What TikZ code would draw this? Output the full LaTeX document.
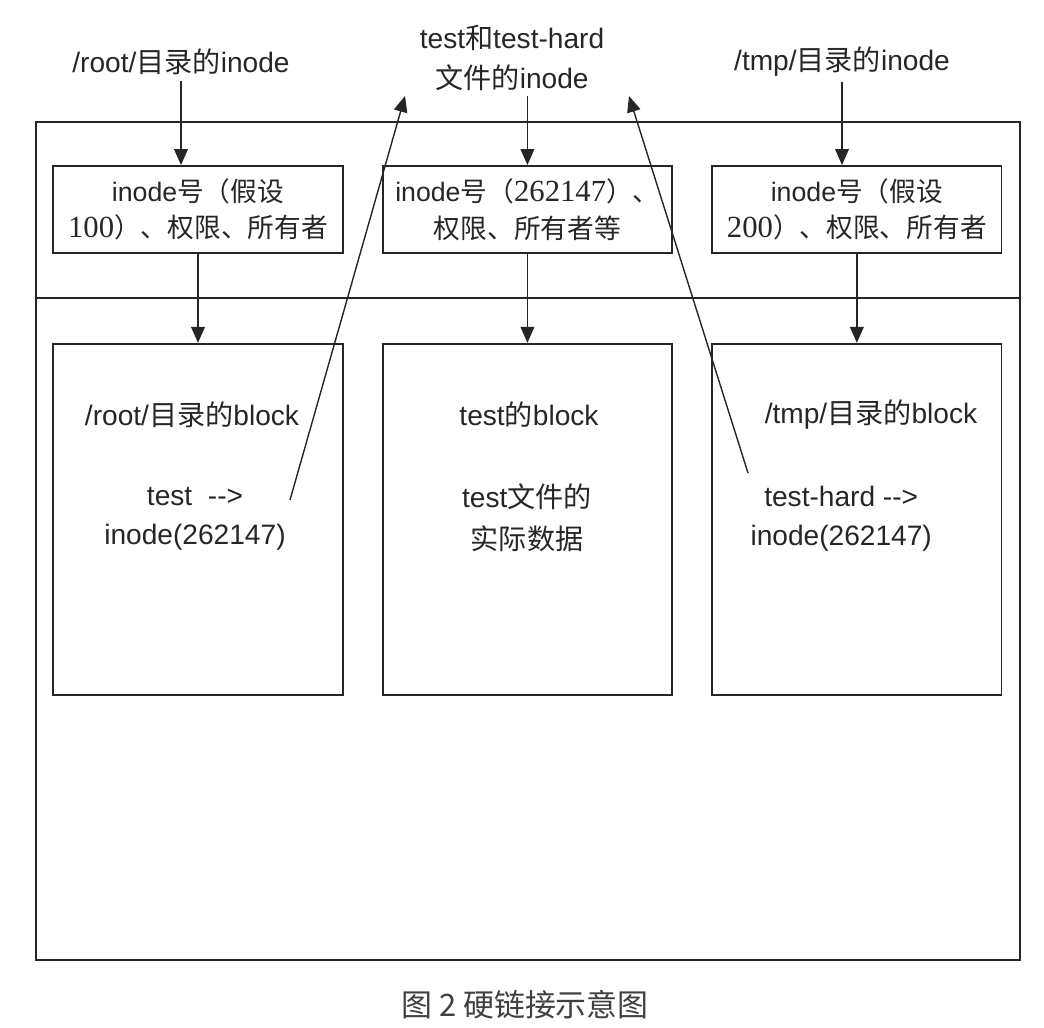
\documentclass[tikz,border=0pt]{standalone}
\usepackage{fontspec}
\setmainfont{Liberation Sans}
\newfontfamily\cjk{Noto Sans CJK SC}
\newfontfamily\numfont[Scale=1.15]{Liberation Serif}
\usetikzlibrary{arrows.meta,positioning}
\newcommand{\zh}[1]{{\cjk #1}}

\begin{document}
\begin{tikzpicture}[
  node distance=9.6mm and 9.6mm,
  line width=1.3pt, color=black!85,
  box/.style={rectangle, draw, minimum width=72.3mm, minimum height=21.75mm, inner sep=0pt, align=center, font=\fontsize{19}{26}\selectfont},
  blk/.style={rectangle, draw, minimum width=72.3mm, minimum height=87.75mm},
  lbl/.style={align=center, font=\fontsize{20}{28}\selectfont},
  arrow/.style={-{Triangle[length=4mm,width=3.4mm]}}]

\useasboundingbox (0,0) rectangle (26.1,-25.7);

% frame and divider
\draw (0.9,-3.05) rectangle (25.5,-24.0);
\draw (0.9,-7.45) -- (25.5,-7.45);

\node[lbl] (rootlbl) at (4.525,-1.55) {/root/\zh{目录的}inode};
\node[lbl] (filelbl) at (12.8,-1.45) {test\zh{和}test-hard\\\zh{文件的}inode};
\node[lbl] (tmplbl) at (21.05,-1.55) {/tmp/\zh{目录的}inode};

\node[box] (ino1) at (4.95,-5.2375) {inode\zh{号（假设}\\{\numfont 100}\zh{）、权限、所有者}};
\node[box, right=of ino1] (ino2) {inode\zh{号（}{\numfont 262147}\zh{）、}\\\zh{权限、所有者等}};
\node[box, right=of ino2] (ino3) {inode\zh{号（假设}\\{\numfont 200}\zh{）、权限、所有者}};

\node[blk, below=22.25mm of ino1] (blk1) {};
\node[blk, below=22.25mm of ino2] (blk2) {};
\node[blk, below=22.25mm of ino3] (blk3) {};

\node[lbl] (rootblk) at (4.8,-10.375) {/root/\zh{目录的}block};
\node[lbl] (rootent) at (4.875,-12.975) {test \ {-}{-}>\\inode(262147)};
\node[lbl] (testblk) at (13.225,-10.375) {test\zh{的}block};
\node[lbl, font=\fontsize{20}{30}\selectfont] (testdat) at (13.175,-12.95) {test\zh{文件的}\\\zh{实际数据}};
\node[lbl] (tmpblk) at (21.775,-10.375) {/tmp/\zh{目录的}block};
\node[lbl] (tmpent) at (21.03,-12.975) {test-hard {-}{-}>\\inode(262147)};

\coordinate (tfrom) at (7.25,-12.5);
\coordinate (tto) at (10.125,-2.4);
\coordinate (hfrom) at (18.7,-11.825);
\coordinate (hto) at (15.725,-2.4);

\draw[arrow] (rootlbl.south) -- (rootlbl.south |- ino1.north);
\draw[arrow] (filelbl.south -| ino2.north) -- (ino2.north);
\draw[arrow] (tmplbl.south) -- (tmplbl.south |- ino3.north);
\draw[arrow] (ino1) -- (blk1);
\draw[arrow] (ino2) -- (blk2);
\draw[arrow] (ino3) -- (blk3);
\draw[arrow, line width=1pt] (tfrom) -- (tto);
\draw[arrow, line width=1pt] (hfrom) -- (hto);

\node[font=\cjk\fontsize{22}{26}\selectfont, text=black!75] (cap) at (13.125,-25.125) {图 2 硬链接示意图};

\end{tikzpicture}
\end{document}
